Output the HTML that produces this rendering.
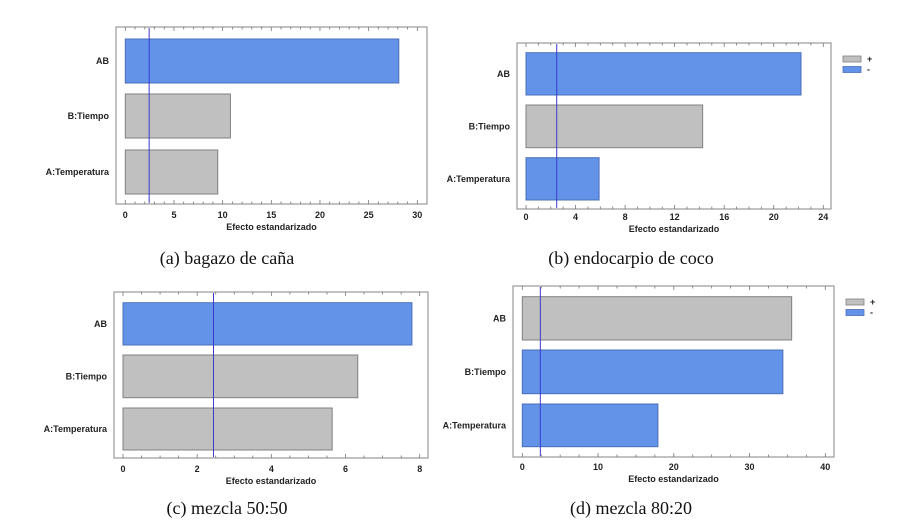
<!DOCTYPE html>
<html><head><meta charset="utf-8"><style>
html,body{margin:0;padding:0;background:#fff;width:906px;height:529px;overflow:hidden}
svg{display:block}
.lab{font-family:"Liberation Sans",sans-serif;font-weight:bold;font-size:9px;fill:#222}
.cap{font-family:"Liberation Serif",serif;font-size:18px;fill:#111}
</style></head><body>
<svg id="s" width="906" height="529"></svg>
<script>
const categories=["AB","B:Tiempo","A:Temperatura"];
const valuesA=[28.1,10.8,9.5];
const signsA=["-","+","+"];
const valuesB=[22.2,14.26,5.9];
const signsB=["-","+","-"];
const valuesC=[7.79,6.33,5.64];
const signsC=["-","+","+"];
const valuesD=[35.56,34.4,17.9];
const signsD=["+","-","-"];
const refValues=[2.45,2.48,2.44,2.38];
const ticksA=[0,5,10,15,20,25,30];
const ticksB=[0,4,8,12,16,20,24];
const ticksC=[0,2,4,6,8];
const ticksD=[0,10,20,30,40];
const captions=["(a) bagazo de caña","(b) endocarpio de coco","(c) mezcla 50:50","(d) mezcla 80:20"];

const panels=[
 {id:"a",vals:valuesA,signs:signsA,ticks:ticksA,minor:5,fx:[116,427],fy:[27,204],x0:125.3,x1:417.3,bars:[[39,83],[94,138],[150,194]],tickY:218,titleY:230,capY:264,capX:227,legend:null},
 {id:"b",vals:valuesB,signs:signsB,ticks:ticksB,minor:4,fx:[517,831],fy:[43,209],x0:526,x1:823.3,bars:[[52.7,95],[105,147.7],[157.7,200]],tickY:220,titleY:232,capY:264,capX:631,legend:[843,56]},
 {id:"c",vals:valuesC,signs:signsC,ticks:ticksC,minor:4,fx:[114,428],fy:[292,458],x0:123,x1:419.7,bars:[[302.7,345],[355,397.7],[408,450]],tickY:472,titleY:484,capY:514,capX:227,legend:null},
 {id:"d",vals:valuesD,signs:signsD,ticks:ticksD,minor:4,fx:[513,834],fy:[286,457],x0:522.3,x1:825.3,bars:[[296.7,340],[350,393.7],[404,446.7]],tickY:470,titleY:482,capY:514,capX:631,legend:[846,299]}
];
const NS="http://www.w3.org/2000/svg";
const svg=document.getElementById("s");
function mk(t,a,p){const e=document.createElementNS(NS,t);for(const k in a)e.setAttribute(k,a[k]);(p||svg).appendChild(e);return e;}
panels.forEach((P,pi)=>{
 const g=mk("g",{});
 
 
 const tmax=P.ticks[P.ticks.length-1];
 const sx=v=>P.x0+(v-P.ticks[0])/(tmax-P.ticks[0])*(P.x1-P.x0);
 const fr=mk("rect",{x:P.fx[0],y:P.fy[0],width:P.fx[1]-P.fx[0],height:P.fy[1]-P.fy[0],fill:"#fff",stroke:"#9a9a9a","stroke-width":1.2},g);
 
 
 const step=P.ticks[1]-P.ticks[0];
 for(let i=0;i<P.ticks.length;i++){
  const nsub=(i<P.ticks.length-1)?P.minor:1;
  for(let j=0;j<nsub;j++){
   const v=P.ticks[i]+j*step/P.minor;
   const x=sx(v);const len=j==0?4:2.5;
   mk("line",{x1:x,x2:x,y1:P.fy[1],y2:P.fy[1]-len,stroke:"#777","stroke-width":0.8},g);
   mk("line",{x1:x,x2:x,y1:P.fy[0],y2:P.fy[0]+len,stroke:"#777","stroke-width":0.8},g);
  }
  const t=mk("text",{x:sx(P.ticks[i]),y:P.tickY,"text-anchor":"middle",class:"lab"},g);
  t.textContent=P.ticks[i];
  
  
 }
 P.vals.forEach((v,i)=>{
  const b=P.bars[i];
  const blue=P.signs[i]=="-";
  const r=mk("rect",{x:sx(0),y:b[0],width:sx(v)-sx(0),height:b[1]-b[0],fill:blue?"#6393e8":"#c0c0c0",stroke:blue?"#4a6fb8":"#808080","stroke-width":1},g);
  
  
  const t=mk("text",{x:P.fx[0]-7,y:(b[0]+b[1])/2+3,"text-anchor":"end",class:"lab"},g);
  t.textContent=categories[i];
  
  
 });
 const rl=mk("line",{x1:sx(refValues[pi]),x2:sx(refValues[pi]),y1:P.fy[0]+1,y2:P.fy[1]-1,stroke:"#3a3ad0","stroke-width":1},g);
 
 
 const xt=mk("text",{x:(P.fx[0]+P.fx[1])/2,y:P.titleY,"text-anchor":"middle",class:"lab"},g);
 xt.textContent="Efecto estandarizado";
 
 
 const cp=mk("text",{x:P.capX,y:P.capY,"text-anchor":"middle",class:"cap"},g);
 cp.textContent=captions[pi];
 
 
 if(P.legend){
  const [lx,ly]=P.legend;
  [["+","#c0c0c0","#808080"],["-","#6393e8","#4a6fb8"]].forEach((L,k)=>{
   const r=mk("rect",{x:lx,y:ly+k*10.5,width:18,height:6,fill:L[1],stroke:L[2],"stroke-width":0.8},g);
   
   
   const t=mk("text",{x:lx+24,y:ly+k*10.5+6,class:"lab"},g);
   t.textContent=L[0];
   
   
  });
 }
});
</script>
</body></html>
